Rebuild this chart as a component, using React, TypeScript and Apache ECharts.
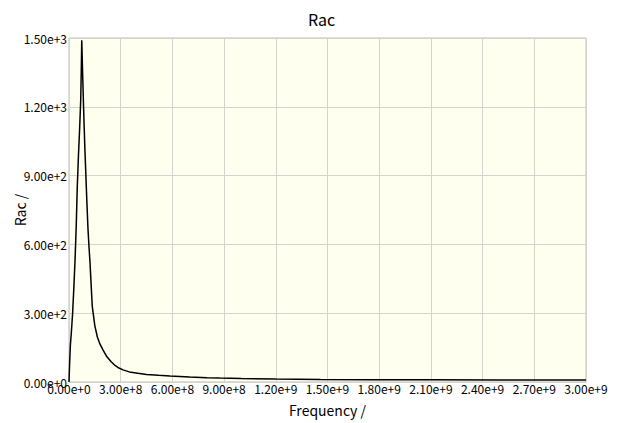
import React, { useEffect, useRef } from "react";
import * as echarts from "echarts";

const freqMHz = [0, 4, 8, 14, 21, 28, 35, 42, 48, 55, 62, 68, 71, 74, 80, 86, 92, 98, 104, 110, 116, 122, 128, 135, 150, 165, 180, 197, 220, 245, 267, 290, 313, 350, 400, 450, 520, 586, 700, 800, 875, 1000, 1200, 1460, 1750, 2100, 2500, 3000];
const racValues = [0, 90, 160, 220, 300, 410, 530, 680, 850, 990, 1110, 1230, 1350, 1490, 1320, 1160, 1020, 900, 780, 670, 590, 520, 430, 330, 245, 195, 165, 140, 110, 88, 72, 61, 53, 44, 38, 33, 29, 26, 22, 19, 17, 15, 13, 11, 10, 9.5, 9, 8.7];

const FONT = "'Noto Sans CJK JP', 'Noto Sans', sans-serif";

export default function App() {
  const ref = useRef<HTMLDivElement>(null);
  useEffect(() => {
    if (!ref.current) return;
    const chart = echarts.init(ref.current, undefined, { renderer: "svg" });
    const data = freqMHz.map((f, i) => [f * 1e6, racValues[i]]);
    chart.setOption({
      animation: false,
      backgroundColor: "#ffffff",
      textStyle: { fontFamily: FONT },
      title: {
        text: "Rac",
        left: 303,
        top: 6,
        textStyle: { fontSize: 16, fontWeight: "normal", color: "#000", fontFamily: FONT },
      },
      grid: {
        left: 69,
        right: 31,
        top: 38,
        bottom: 41,
        show: true,
        containLabel: false,
        outerBoundsMode: "none",
        backgroundColor: "#fffff0",
        borderColor: "#bdbdbd",
        borderWidth: 1,
      },
      xAxis: {
        type: "value",
        min: 0,
        max: 3e9,
        interval: 3e8,
        name: "Frequency /",
        nameLocation: "middle",
        nameGap: 21,
        nameMoveOverlap: false,
        nameTextStyle: { fontSize: 14, color: "#000", fontFamily: FONT, verticalAlign: "top" },
        axisLine: { show: false },
        axisTick: { show: false },
        axisLabel: {
          color: "#000",
          fontSize: 12,
          margin: 0,
          lineHeight: 12,
          fontFamily: FONT,
          formatter: (v: number) => v.toExponential(2),
        },
        splitLine: { show: true, lineStyle: { color: "#d4d4cc", width: 1 } },
      },
      yAxis: {
        type: "value",
        min: 0,
        max: 1500,
        interval: 300,
        name: "Rac /",
        nameLocation: "middle",
        nameGap: 42,
        nameRotate: 90,
        nameMoveOverlap: false,
        nameTextStyle: { fontSize: 14, color: "#000", fontFamily: FONT },
        axisLine: { show: false },
        axisTick: { show: false },
        axisLabel: {
          color: "#000",
          fontSize: 12,
          margin: 2,
          fontFamily: FONT,
          formatter: (v: number) => v.toExponential(2),
        },
        splitLine: { show: true, lineStyle: { color: "#d4d4cc", width: 1 } },
      },
      series: [
        {
          type: "line",
          data,
          showSymbol: false,
          smooth: false,
          lineStyle: { color: "#000", width: 1.5 },
          itemStyle: { color: "#000" },
        },
      ],
    });
    return () => chart.dispose();
  }, []);
  return (
    <div
      ref={ref}
      style={{ position: "fixed", left: 0, top: 0, width: 617, height: 423 }}
    />
  );
}
